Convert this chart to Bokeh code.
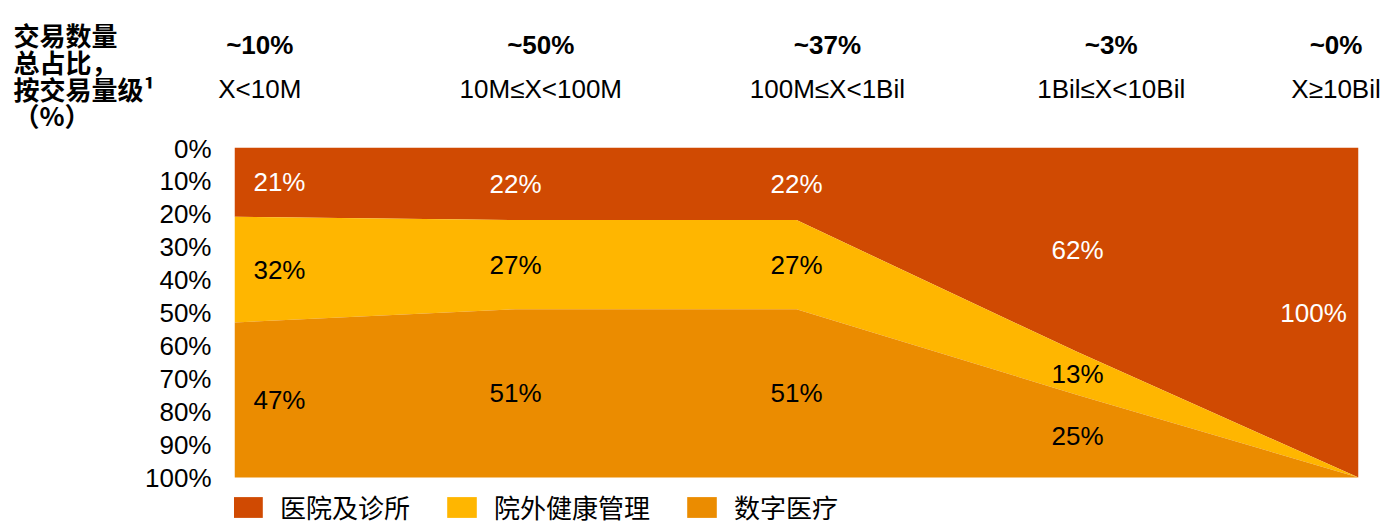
from bokeh.plotting import figure
from bokeh.layouts import column
from bokeh.models import (ColumnDataSource, Range1d, FixedTicker, PrintfTickFormatter,
                          Legend, LegendItem)
from bokeh.core.properties import value
from bokeh.embed import file_html
from bokeh.resources import INLINE

# ---------------- data ----------------
size_ranges = ["X<10M", "10M≤X<100M", "100M≤X<1Bil", "1Bil≤X<10Bil", "X≥10Bil"]
deal_share = ["~10%", "~50%", "~37%", "~3%", "~0%"]
series = ["医院及诊所", "院外健康管理", "数字医疗"]
hospital = [21, 22, 22, 62, 100]
outpatient = [32, 27, 27, 13, 0]
digital = [47, 51, 51, 25, 0]
y_ticks = [0, 10, 20, 30, 40, 50, 60, 70, 80, 90, 100]
title_lines = ["交易数量", "总占比，", "按交易量级¹", "（%）"]

# ---------------- layout / style ----------------
colors = ["#D04A02", "#FFB600", "#EB8C00"]
LATIN = "Liberation Sans, Noto Sans CJK SC"
CJK = "Noto Sans CJK SC, Liberation Sans"
FS = "26px"

W = 1380            # total width
TOP_H = 133         # header strip height
MAIN_H = 526 - TOP_H
FRAME_L, FRAME_R = 234, 1358
FRAME_T = 147       # page y of 0 %
FRAME_T_GAP = FRAME_T - TOP_H
FRAME_H = 330       # pixel height of 0..100 %

idx = list(range(len(size_ranges)))
n = len(idx) - 1
upx = n / (FRAME_R - FRAME_L)   # data units per pixel (x)

# ---------------- header strip ----------------
top = figure(width=W, height=TOP_H, output_backend="svg", toolbar_location=None,
             x_range=Range1d(-FRAME_L * upx, n + (W - FRAME_R) * upx),
             y_range=Range1d(TOP_H, 0), x_axis_location=None, y_axis_location=None,
             min_border=0)
top.frame_align = False
top.outline_line_color = None
top.grid.visible = False

h_off = [0.09, 0.09, 0.11, 0.12, -0.08]
hx = [j + h_off[j] for j in idx]
top.text(x=hx, y=[44] * len(idx), text=deal_share, text_align="center", text_baseline="middle",
         text_font=value(LATIN), text_font_size=FS, text_font_style="bold", text_color="black")
top.text(x=hx, y=[88] * len(idx), text=size_ranges, text_align="center", text_baseline="middle",
         text_font=value(LATIN), text_font_size=FS, text_color="black")

title_y = [33.5, 60.5, 87.5, 113.5]
top.text(x=[(13 - FRAME_L) * upx] * len(title_lines), y=title_y, text=title_lines,
         text_align="left", text_baseline="middle", text_font=value(CJK),
         text_font_size=FS, text_font_style="bold", text_color="black")

# ---------------- main chart ----------------
values = [hospital, outpatient, digital]
src = ColumnDataSource({"x": idx, series[0]: hospital, series[1]: outpatient, series[2]: digital})

y_bottom = 100 * (MAIN_H - FRAME_T_GAP) / FRAME_H
p = figure(width=W, height=MAIN_H, x_range=Range1d(0, n), y_range=Range1d(y_bottom, 0),
           output_backend="svg", toolbar_location=None, x_axis_location=None,
           min_border_left=FRAME_L, min_border_right=W - FRAME_R,
           min_border_top=FRAME_T_GAP, min_border_bottom=0)
p.frame_align = False
p.outline_line_color = None
p.grid.visible = False

rends = p.varea_stack(stackers=series, x="x", color=colors, source=src)

ax = p.yaxis[0]
ax.ticker = FixedTicker(ticks=y_ticks)
ax.formatter = PrintfTickFormatter(format="%d%%")
ax.axis_line_color = None
ax.major_tick_line_color = None
ax.minor_tick_line_color = None
ax.major_tick_out = 0
ax.major_tick_in = 0
ax.major_label_standoff = 23
ax.major_label_text_font = LATIN
ax.major_label_text_font_size = FS
ax.major_label_text_color = "black"

# value labels in band centres
x_off = [0.16, 0, 0, 0, -0.16]
lx, ly, lt, lc = [], [], [], []
for j in idx:
    base = 0
    for i, vals in enumerate(values):
        v = vals[j]
        if v > 0:
            lx.append(j + x_off[j])
            ly.append(base + v / 2)
            lt.append(f"{v}%")
            lc.append("white" if i == 0 else "black")
        base += v
lsrc = ColumnDataSource({"x": lx, "y": ly, "t": lt, "c": lc})
p.text(x="x", y="y", text="t", source=lsrc, text_color="c", text_align="center",
       text_baseline="middle", text_font=value(LATIN), text_font_size=FS)

legend = Legend(items=[LegendItem(label=s, renderers=[r]) for s, r in zip(series, rends)],
                location=(-5, 1), orientation="horizontal", glyph_width=37, glyph_height=26,
                label_height=26, label_standoff=14, spacing=33, padding=0, margin=0,
                border_line_alpha=0, background_fill_alpha=0,
                label_text_font=CJK, label_text_font_size=FS, label_text_color="black")
p.add_layout(legend)

layout = column(top, p, spacing=0)
open("out.html", "w").write(file_html(layout, INLINE))
